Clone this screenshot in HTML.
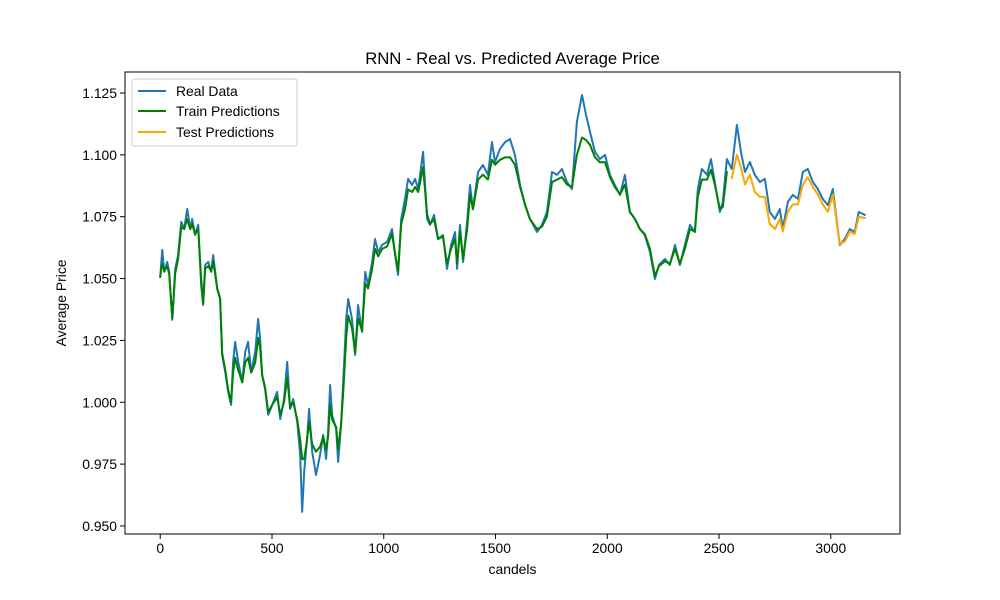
<!DOCTYPE html>
<html><head><meta charset="utf-8"><style>
html,body{margin:0;padding:0;background:#fff;}
svg{display:block;font-family:"Liberation Sans","DejaVu Sans",sans-serif;}
</style></head><body>
<svg id="chart" width="1000" height="600" viewBox="0 0 1000 600" xmlns="http://www.w3.org/2000/svg">
<rect x="0" y="0" width="1000" height="600" fill="#fff"/>
<text x="512.5" y="64" text-anchor="middle" font-size="16.7" fill="#000">RNN - Real vs. Predicted Average Price</text>
<text x="512.5" y="574" text-anchor="middle" font-size="13.9" fill="#000">candels</text>
<text transform="translate(66,303) rotate(-90)" text-anchor="middle" font-size="13.9" fill="#000">Average Price</text>
<g id="plot"></g>
<g id="axes"></g>
<g>
<rect x="132" y="79" width="165" height="67" rx="2" fill="#fff" fill-opacity="0.8" stroke="#ccc" stroke-width="1"/>
<g><line x1="138" y1="91" x2="166" y2="91" stroke="#1f77b4" stroke-width="2"/><text x="176" y="96" font-size="13.9">Real Data</text></g>
<g><line x1="138" y1="111" x2="166" y2="111" stroke="#008000" stroke-width="2"/><text x="176" y="116" font-size="13.9">Train Predictions</text></g>
<g><line x1="138" y1="132" x2="166" y2="132" stroke="#ffa500" stroke-width="2"/><text x="176" y="137" font-size="13.9">Test Predictions</text></g>
</g>
</svg>
<script>
const realCandles=[0,9,18,31,40,54,67,80,94,107,121,134,143,156,170,183,192,201,215,228,237,255,268,277,291,304,317,326,335,349,367,380,393,407,425,438,447,456,469,483,501,523,537,554,568,581,595,613,626,635,644,657,666,680,697,715,729,742,751,760,769,787,796,809,818,832,841,858,872,885,903,917,930,948,961,975,993,1015,1037,1051,1064,1078,1095,1109,1127,1140,1154,1176,1194,1207,1225,1243,1265,1283,1301,1319,1328,1341,1355,1373,1386,1399,1422,1444,1466,1484,1498,1520,1543,1565,1587,1610,1632,1654,1686,1708,1730,1753,1775,1797,1820,1842,1864,1887,1905,1923,1945,1967,1990,2012,2034,2057,2079,2101,2124,2146,2168,2191,2213,2231,2258,2280,2303,2325,2347,2370,2392,2405,2423,2446,2464,2481,2504,2517,2535,2557,2580,2598,2616,2638,2660,2683,2705,2727,2750,2772,2785,2808,2830,2853,2875,2897,2920,2942,2964,2987,3009,3040,3063,3085,3107,3125,3152];
const realValues=[1.0506,1.0616,1.0527,1.0567,1.0527,1.0333,1.0539,1.0595,1.0729,1.0700,1.0781,1.0700,1.0741,1.0676,1.0717,1.0474,1.0393,1.0555,1.0567,1.0527,1.0595,1.0458,1.0417,1.0191,1.0122,1.0042,0.9989,1.0163,1.0244,1.0163,1.0082,1.0203,1.0244,1.0122,1.0203,1.0337,1.0256,1.0110,1.0054,0.9949,0.9989,1.0042,0.9932,1.0013,1.0163,0.9973,1.0013,0.9920,0.9787,0.9557,0.9718,0.9852,0.9973,0.9799,0.9706,0.9787,0.9868,0.9771,0.9880,1.0070,0.9949,0.9892,0.9759,0.9908,1.0070,1.0337,1.0417,1.0337,1.0191,1.0393,1.0284,1.0527,1.0474,1.0567,1.0660,1.0607,1.0636,1.0648,1.0700,1.0595,1.0515,1.0741,1.0822,1.0903,1.0878,1.0903,1.0862,1.1012,1.0741,1.0717,1.0757,1.0660,1.0676,1.0539,1.0636,1.0688,1.0539,1.0717,1.0567,1.0729,1.0878,1.0781,1.0931,1.0959,1.0919,1.1052,1.0971,1.1024,1.1052,1.1064,1.1000,1.0878,1.0797,1.0741,1.0688,1.0717,1.0769,1.0931,1.0919,1.0943,1.0890,1.0862,1.1133,1.1242,1.1161,1.1092,1.1012,1.0983,1.1000,1.0919,1.0878,1.0838,1.0919,1.0769,1.0741,1.0700,1.0676,1.0607,1.0498,1.0555,1.0579,1.0555,1.0636,1.0555,1.0636,1.0717,1.0688,1.0862,1.0943,1.0919,1.0983,1.0890,1.0769,1.0810,1.0983,1.0943,1.1121,1.1012,1.0931,1.0971,1.0919,1.0890,1.0903,1.0769,1.0741,1.0781,1.0700,1.0810,1.0838,1.0822,1.0931,1.0943,1.0890,1.0862,1.0822,1.0797,1.0862,1.0636,1.0660,1.0700,1.0688,1.0769,1.0757];
const trainCandles=[0,9,18,31,40,54,67,80,94,107,121,134,143,156,170,183,192,201,215,228,237,255,268,277,291,304,317,326,335,349,367,380,393,407,425,438,447,456,469,483,501,523,537,554,568,581,595,613,626,635,644,657,666,680,697,715,729,742,751,760,769,787,796,809,818,832,841,858,872,885,903,917,930,948,961,975,993,1015,1037,1051,1064,1078,1095,1109,1127,1140,1154,1176,1194,1207,1225,1243,1265,1283,1301,1319,1328,1341,1355,1373,1386,1399,1422,1444,1466,1484,1498,1520,1543,1565,1587,1610,1632,1654,1686,1708,1730,1753,1775,1797,1820,1842,1864,1887,1905,1923,1945,1967,1990,2012,2034,2057,2079,2101,2124,2146,2168,2191,2213,2231,2258,2280,2303,2325,2347,2370,2392,2405,2423,2446,2464,2481,2504,2517,2535];
const trainValues=[1.0510,1.0560,1.0530,1.0550,1.0520,1.0340,1.0520,1.0580,1.0710,1.0700,1.0740,1.0700,1.0720,1.0680,1.0700,1.0500,1.0400,1.0540,1.0550,1.0530,1.0570,1.0460,1.0420,1.0200,1.0130,1.0050,1.0000,1.0120,1.0180,1.0130,1.0080,1.0160,1.0180,1.0120,1.0160,1.0260,1.0220,1.0110,1.0060,0.9960,0.9990,1.0020,0.9950,1.0000,1.0100,0.9980,1.0000,0.9930,0.9850,0.9770,0.9770,0.9850,0.9920,0.9830,0.9800,0.9820,0.9860,0.9810,0.9860,0.9990,0.9930,0.9900,0.9810,0.9910,1.0030,1.0260,1.0350,1.0300,1.0200,1.0340,1.0290,1.0480,1.0460,1.0540,1.0620,1.0590,1.0620,1.0630,1.0680,1.0600,1.0530,1.0720,1.0780,1.0860,1.0850,1.0870,1.0850,1.0950,1.0760,1.0720,1.0740,1.0660,1.0670,1.0560,1.0620,1.0660,1.0560,1.0690,1.0580,1.0700,1.0840,1.0780,1.0900,1.0920,1.0900,1.0980,1.0960,1.0980,1.0990,1.0990,1.0960,1.0870,1.0800,1.0740,1.0700,1.0710,1.0750,1.0890,1.0900,1.0910,1.0880,1.0870,1.1000,1.1070,1.1060,1.1040,1.0990,1.0970,1.0970,1.0910,1.0870,1.0840,1.0880,1.0770,1.0740,1.0700,1.0680,1.0620,1.0510,1.0550,1.0570,1.0560,1.0620,1.0560,1.0620,1.0700,1.0690,1.0830,1.0900,1.0900,1.0940,1.0880,1.0780,1.0790,1.0930];
const testCandles=[2557,2580,2598,2616,2638,2660,2683,2705,2727,2750,2772,2785,2808,2830,2853,2875,2897,2920,2942,2964,2987,3009,3040,3063,3085,3107,3125,3152];
const testValues=[1.0906,1.1000,1.0950,1.0880,1.0920,1.0850,1.0830,1.0830,1.0720,1.0700,1.0740,1.0690,1.0770,1.0800,1.0800,1.0880,1.0910,1.0870,1.0840,1.0800,1.0770,1.0840,1.0640,1.0650,1.0690,1.0680,1.0750,1.0745];
const xTicks=[0,500,1000,1500,2000,2500,3000];
const yTicks=[0.950,0.975,1.000,1.025,1.050,1.075,1.100,1.125];
const xTickLabels=["0","500","1000","1500","2000","2500","3000"];
const yTickLabels=["0.950","0.975","1.000","1.025","1.050","1.075","1.100","1.125"];

const L=125,R=900,T=72,B=534;
const xMin=-157.6,xMax=3309.6,yMin=0.94675,yMax=1.13349;
function sx(v){return L+(v-xMin)/(xMax-xMin)*(R-L);}
function sy(v){return B-(v-yMin)/(yMax-yMin)*(B-T);}
const NS="http://www.w3.org/2000/svg";
const plot=document.getElementById('plot');
const axes=document.getElementById('axes');
function mkLine(xs,ys,color,name){
  const p=document.createElementNS(NS,'polyline');
  p.setAttribute('points',xs.map((x,i)=>sx(x).toFixed(2)+','+sy(ys[i]).toFixed(2)).join(' '));
  p.setAttribute('fill','none');p.setAttribute('stroke',color);
  p.setAttribute('stroke-width','2');p.setAttribute('stroke-linejoin','round');p.setAttribute('stroke-linecap','square');
  
  
  plot.appendChild(p);
}
mkLine(realCandles,realValues,'#1f77b4','real-data-line');
mkLine(trainCandles,trainValues,'#008000','train-predictions-line');
mkLine(testCandles,testValues,'#ffa500','test-predictions-line');

const frame=document.createElementNS(NS,'rect');
frame.setAttribute('x',L);frame.setAttribute('y',T);frame.setAttribute('width',R-L);frame.setAttribute('height',B-T);
frame.setAttribute('fill','none');frame.setAttribute('stroke','#000');frame.setAttribute('stroke-width','1');


axes.appendChild(frame);
xTicks.forEach((t,i)=>{
  const x=sx(t);
  const l=document.createElementNS(NS,'line');
  l.setAttribute('x1',x);l.setAttribute('x2',x);l.setAttribute('y1',B);l.setAttribute('y2',B+5);l.setAttribute('stroke','#000');
  
  
  axes.appendChild(l);
  const tx=document.createElementNS(NS,'text');
  tx.setAttribute('x',x);tx.setAttribute('y',B+19);tx.setAttribute('text-anchor','middle');tx.setAttribute('font-size','13.9');
  tx.textContent=xTickLabels[i];
  
  
  axes.appendChild(tx);
});
yTicks.forEach((t,i)=>{
  const y=sy(t);
  const l=document.createElementNS(NS,'line');
  l.setAttribute('x1',L-5);l.setAttribute('x2',L);l.setAttribute('y1',y);l.setAttribute('y2',y);l.setAttribute('stroke','#000');
  
  
  axes.appendChild(l);
  const tx=document.createElementNS(NS,'text');
  tx.setAttribute('x',L-8);tx.setAttribute('y',y+5);tx.setAttribute('text-anchor','end');tx.setAttribute('font-size','13.9');
  tx.textContent=yTickLabels[i];
  
  
  axes.appendChild(tx);
});
</script>
</body></html>
